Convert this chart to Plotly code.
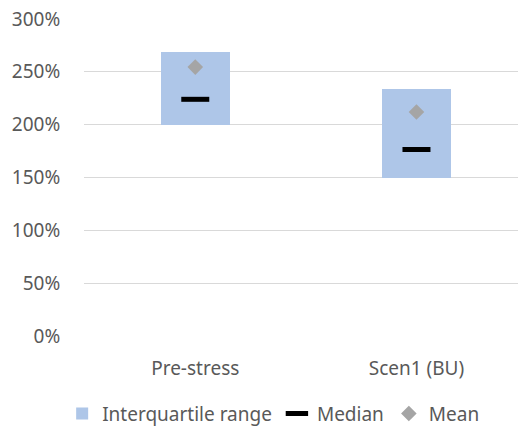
import plotly.graph_objects as go

# Ratio distribution per scenario (values in %)
categories = ["Pre-stress", "Scen1 (BU)"]
q1 = [200, 149.5]
q3 = [269, 233.5]
median = [224, 176.5]
mean = [254.5, 212]
y_ticks = [0, 50, 100, 150, 200, 250, 300]

x_pos = list(range(len(categories)))
font_family = "Noto Sans, Open Sans, sans-serif"
text_color = "#595959"
font_size = 19

fig = go.Figure()

# Interquartile range as floating bars from Q1 to Q3
fig.add_trace(go.Bar(
    x=x_pos,
    y=[b - a for a, b in zip(q1, q3)],
    base=q1,
    width=0.312,
    marker=dict(color="#AEC6E8", line=dict(width=0)),
    name="Interquartile range",
))

fig.add_trace(go.Scatter(
    x=x_pos,
    y=median,
    mode="markers",
    marker=dict(symbol="line-ew", size=20, color="black",
                line=dict(width=5, color="black")),
    name="Median",
))

fig.add_trace(go.Scatter(
    x=x_pos,
    y=mean,
    mode="markers",
    marker=dict(symbol="diamond", size=12, color="#A5A5A5",
                line=dict(width=0)),
    name="Mean",
))

fig.update_layout(
    width=518,
    height=429,
    margin=dict(l=84, r=0, t=19, b=93, autoexpand=False),
    paper_bgcolor="white",
    plot_bgcolor="white",
    font=dict(family=font_family, size=font_size, color=text_color),
    showlegend=True,
    legend=dict(
        orientation="h",
        xref="paper", yref="paper",
        x=0.437, xanchor="center",
        y=-0.245, yanchor="middle",
        font=dict(size=font_size, color=text_color),
        itemwidth=30,
        traceorder="normal",
    ),
    bargap=0,
)

fig.update_xaxes(
    range=[-0.503, 1.459],
    tickmode="array",
    tickvals=x_pos,
    ticktext=categories,
    tickangle=0,
    showgrid=False,
    zeroline=False,
    showline=False,
    ticks="outside",
    ticklen=15,
    tickcolor="rgba(0,0,0,0)",
    tickfont=dict(size=font_size, color=text_color),
)

fig.update_yaxes(
    range=[0, 300],
    tickmode="array",
    tickvals=y_ticks,
    ticktext=[f"{v}%" for v in y_ticks],
    showgrid=True,
    gridcolor="#D9D9D9",
    gridwidth=1,
    zeroline=False,
    showline=False,
    ticks="outside",
    ticklen=19,
    tickcolor="rgba(0,0,0,0)",
    tickfont=dict(size=font_size, color=text_color),
)

fig.write_html("out.html")
